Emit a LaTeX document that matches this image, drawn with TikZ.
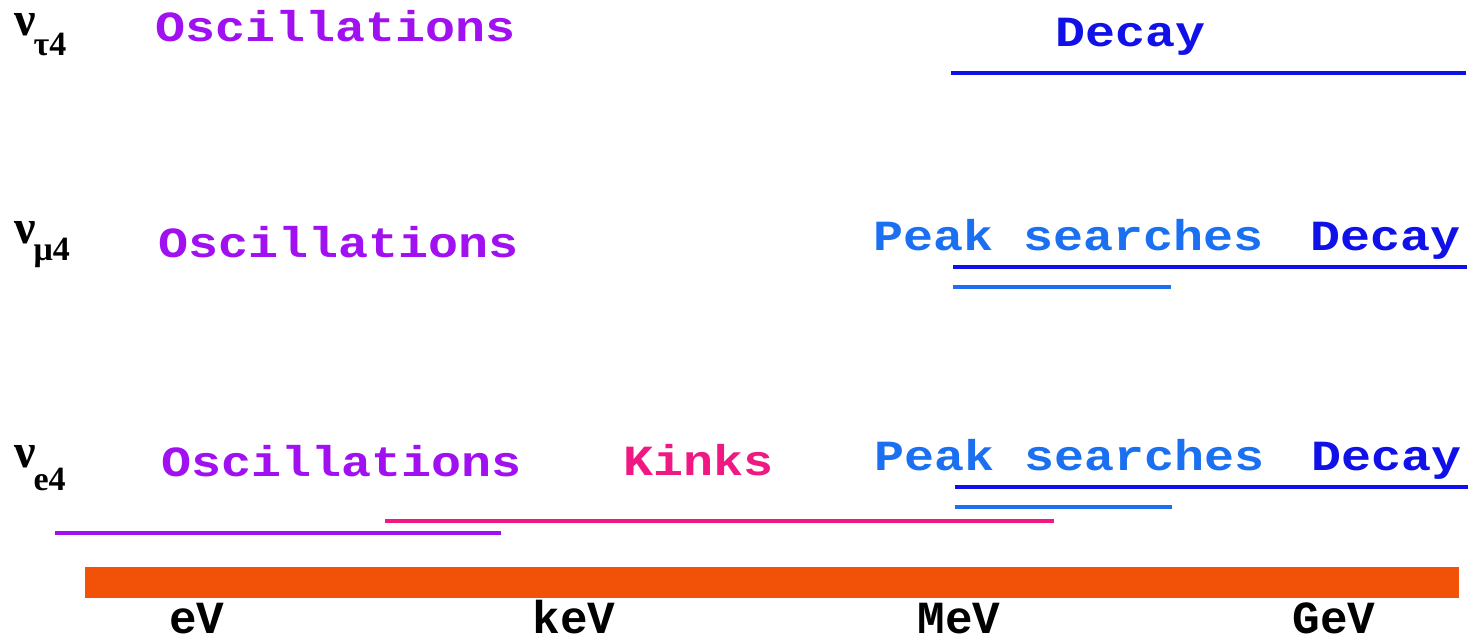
\documentclass[tikz,border=0pt]{standalone}
\usepackage{fontspec}
\setmainfont{Liberation Mono}
\newfontfamily\serifbold{Liberation Serif}
\definecolor{oscc}{RGB}{160,16,240}
\definecolor{decc}{RGB}{16,16,232}
\definecolor{peakc}{RGB}{26,112,240}
\definecolor{kinkc}{RGB}{240,24,130}
\definecolor{barc}{RGB}{242,82,8}
\newcommand{\nulab}[2]{{\serifbold\bfseries\fontsize{48}{48}\selectfont ν\kern-2pt\raisebox{-#2}{\fontsize{34}{34}\selectfont #1}}}
\begin{document}
\begin{tikzpicture}[x=1pt,y=-1pt,
  lbl/.style={anchor=base west,inner sep=0pt,yscale=0.86,transform shape,font=\bfseries\fontsize{50}{60}\selectfont},
  axlbl/.style={anchor=base,inner sep=0pt,text depth=0pt,font=\bfseries\fontsize{46}{56}\selectfont},
  nul/.style={anchor=base west,inner sep=0pt,text height=24pt},
  rangebar/.style={line width=4pt},
]
\useasboundingbox (0,0) rectangle (1472,641);
% row labels
\node[nul] (nutau) at (14,35) {\nulab{τ4}{20pt}};
\node[nul] (numu) at (14,243) {\nulab{μ4}{17pt}};
\node[nul] (nue) at (14,467) {\nulab{e4}{23pt}};
% top row
\node[lbl,text=oscc] (osc1) at (155,41) {Oscillations};
\node[lbl,text=decc] (dec1) at (1055,46) {Decay};
% middle row
\node[lbl,text=oscc] (osc2) at (158,257) {Oscillations};
\node[lbl,text=peakc] (peak2) at (873,250) {Peak searches};
\node[lbl,text=decc] (dec2) at (1310,250) {Decay};
% bottom row
\node[lbl,text=oscc] (osc3) at (161,476) {Oscillations};
\node[lbl,text=kinkc] (kink3) at (623,475) {Kinks};
\node[lbl,text=peakc] (peak3) at (874,470) {Peak searches};
\node[lbl,text=decc] (dec3) at (1311,470) {Decay};
% range bars
\draw[rangebar,decc] (951,73) coordinate (d1a) -- (1466,73) coordinate (d1b);
\draw[rangebar,decc] (953,267) coordinate (d2a) -- (1467,267) coordinate (d2b);
\draw[line width=3.5pt,peakc] (953,287) coordinate (p2a) -- (1171,287) coordinate (p2b);
\draw[rangebar,decc] (955,487) coordinate (d3a) -- (1468,487) coordinate (d3b);
\draw[line width=3.5pt,peakc] (955,507) coordinate (p3a) -- (1172,507) coordinate (p3b);
\draw[rangebar,kinkc] (385,521) coordinate (k3a) -- (1054,521) coordinate (k3b);
\draw[rangebar,oscc] (55,533) coordinate (o3a) -- (501,533) coordinate (o3b);
% energy axis
\fill[barc] (85,567) rectangle (1459,598);
\node[axlbl] (ev) at (197,633) {eV};
\node[axlbl] (kev) at (574,633) {keV};
\node[axlbl] (mev) at (959,633) {MeV};
\node[axlbl] (gev) at (1334,633) {GeV};
\end{tikzpicture}
\end{document}
